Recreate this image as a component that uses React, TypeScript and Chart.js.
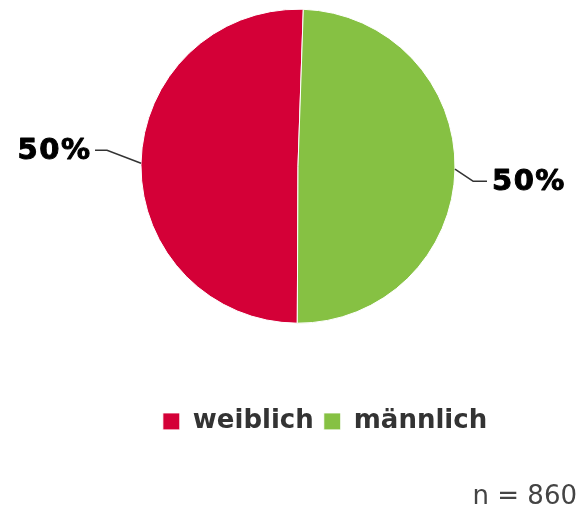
import React, { useEffect, useRef } from 'react';
import { Chart, registerables } from 'chart.js';

Chart.register(...registerables);

const categories = ['weiblich', 'männlich'];
const counts = [434, 426];
const sliceColors = ['#D40037', '#86C143'];
const sampleLabel = 'n = 860';

const FONT = "'DejaVu Sans', Verdana, sans-serif";

const labelPlugin = {
  id: 'pieLabels',
  afterDatasetsDraw(chart: any) {
    const ctx = chart.ctx;
    const meta = chart.getDatasetMeta(0);
    const data = chart.data.datasets[0].data as number[];
    const total = data.reduce((a, b) => a + b, 0);
    ctx.save();
    meta.data.forEach((arc: any, i: number) => {
      const { x, y, startAngle, endAngle, outerRadius } = arc.getProps(
        ['x', 'y', 'startAngle', 'endAngle', 'outerRadius'],
        true
      );
      const mid = (startAngle + endAngle) / 2;
      const ex = x + Math.cos(mid) * outerRadius;
      const ey = y + Math.sin(mid) * outerRadius;
      const right = Math.cos(mid) >= 0;
      const elbowX = right ? ex + 18 : ex - 34;
      const elbowY = right ? ey + 12 : ey - 13;
      const endX = right ? elbowX + 14 : elbowX - 12;
      ctx.beginPath();
      ctx.moveTo(ex, ey);
      ctx.lineTo(elbowX, elbowY);
      ctx.lineTo(endX, elbowY);
      ctx.strokeStyle = '#333333';
      ctx.lineWidth = 1.5;
      ctx.stroke();
      const pct = Math.round((data[i] / total) * 100) + '%';
      ctx.font = `bold 29px ${FONT}`;
      const ls = 1.5;
      try {
        (ctx as any).letterSpacing = ls + 'px';
      } catch (e) {}
      ctx.fillStyle = '#000000';
      ctx.strokeStyle = '#000000';
      ctx.lineWidth = 1;
      ctx.lineJoin = 'round';
      ctx.textBaseline = 'middle';
      ctx.textAlign = 'left';
      const w = ctx.measureText(pct).width - ls;
      const tx = right ? endX + 5 : endX - 5 - w;
      ctx.fillText(pct, tx, elbowY + 1);
      ctx.strokeText(pct, tx, elbowY + 1);
      try {
        (ctx as any).letterSpacing = '0px';
      } catch (e) {}
    });
    ctx.restore();
  },
};

const shiftLegendPlugin = {
  id: 'shiftLegend',
  afterLayout(chart: any) {
    const lg = chart.legend;
    if (lg) {
      lg.left += 27;
      lg.right += 27;
    }
  },
};

export default function App() {
  const ref = useRef<HTMLCanvasElement | null>(null);
  useEffect(() => {
    document.body.style.margin = '0';
    const canvas = ref.current;
    if (!canvas) return;
    const chart = new Chart(canvas, {
      type: 'pie',
      data: {
        labels: categories,
        datasets: [
          {
            data: counts,
            backgroundColor: sliceColors,
            borderColor: '#ffffff',
            borderWidth: 1,
            hoverOffset: 0,
          },
        ],
      },
      options: {
        animation: false,
        responsive: false,
        devicePixelRatio: 1,
        rotation: 180.26,
        radius: 157,
        layout: { padding: { top: 9, left: 19, right: 3, bottom: 0 } },
        plugins: {
          legend: {
            position: 'bottom',
            title: {
              display: true,
              text: '',
              font: { size: 12 },
              padding: { top: 60.6, bottom: 0 },
            },
            labels: {
              boxWidth: 17,
              boxHeight: 17,
              padding: 10,
              color: '#333333',
              font: { family: FONT, size: 26, weight: 'bold' },
            },
          },
          subtitle: {
            display: true,
            position: 'bottom',
            align: 'end',
            text: sampleLabel,
            color: '#444444',
            font: { family: FONT, size: 26, weight: 'normal' },
            padding: { top: 37, bottom: 1.4 },
          },
          tooltip: { enabled: false },
        },
      } as any,
      plugins: [labelPlugin, shiftLegendPlugin],
    });
    return () => chart.destroy();
  }, []);
  return (
    <div style={{ width: 580, height: 514 }}>
      <canvas ref={ref} width={580} height={514} style={{ display: 'block' }} />
    </div>
  );
}
